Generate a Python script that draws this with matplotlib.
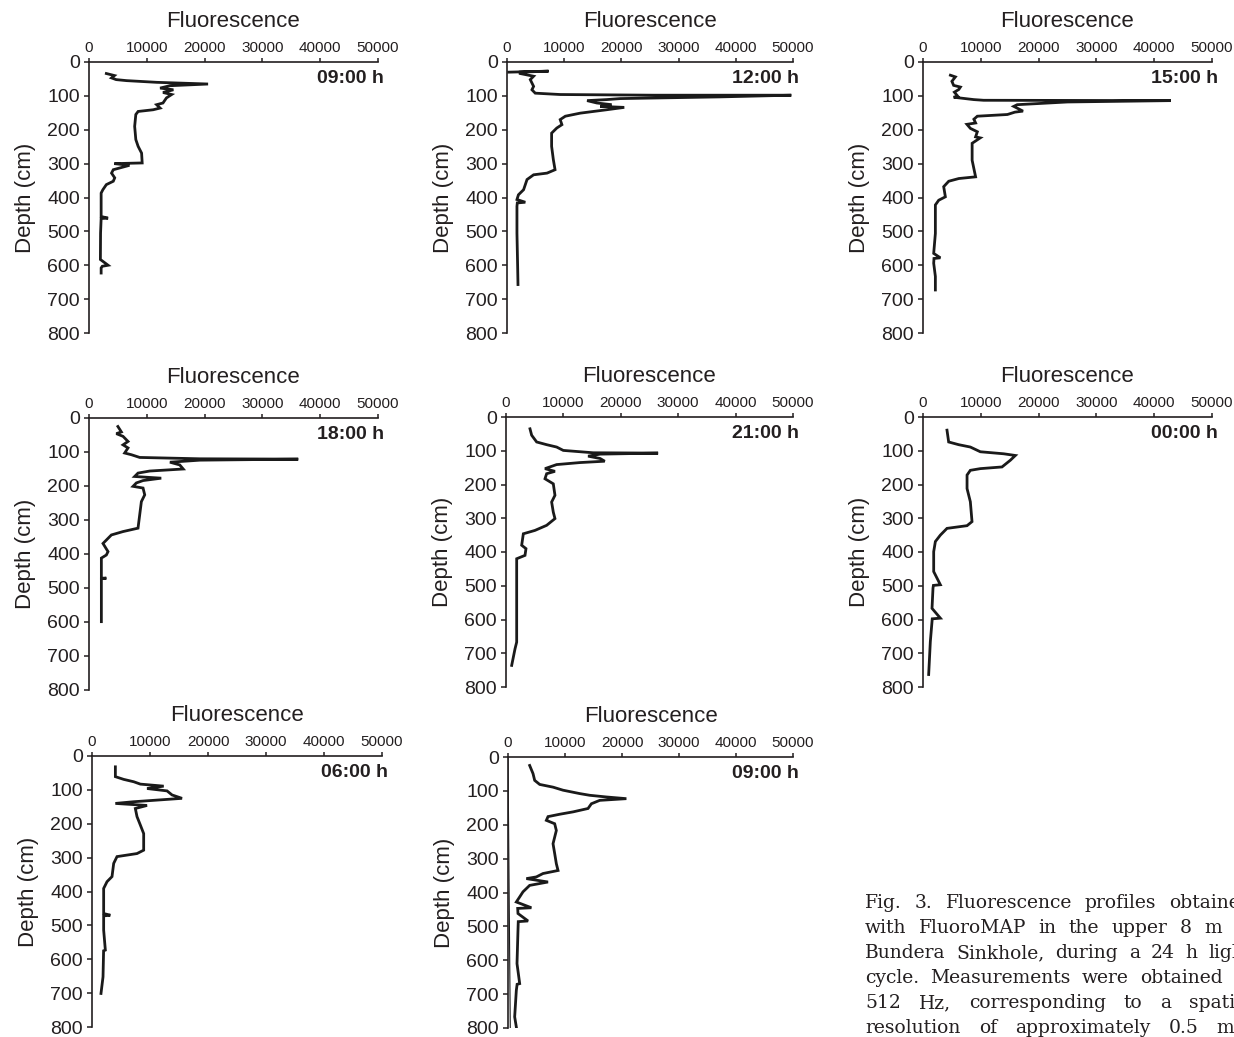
import matplotlib
matplotlib.use('Agg')
import matplotlib.pyplot as plt

plt.rcParams['font.family'] = ['Liberation Sans', 'DejaVu Sans']

########################
# Digitised profiles   #
########################

times = ['09:00 h', '12:00 h', '15:00 h', '18:00 h', '21:00 h', '00:00 h', '06:00 h', '09:00 h']

# 09:00 h
d_0900 = [34, 40, 47, 52, 55, 60, 65, 70, 77, 82, 90, 96, 106, 121, 126, 136, 141, 146, 155, 190,
          229, 249, 269, 298, 300, 305, 318, 328, 342, 352, 362, 377, 387, 456, 461, 462, 505, 583, 600, 603, 608, 623]
f_0900 = [3000, 4400, 3900, 4700, 6500, 11700, 20600, 14000, 12300, 14600, 12800, 14300, 13400, 12800, 11700, 12300, 11100, 8500, 8100, 7900,
          8100, 8500, 9100, 9200, 4400, 7000, 4200, 3900, 4450, 4200, 3000, 2400, 2100, 2100, 3300, 2100, 2000, 1970, 3300, 2300, 2100, 2100]

# 12:00 h
d_1200 = [30, 27, 30, 34, 42, 52, 72, 82, 92, 96, 98, 98, 103, 108, 111, 114, 121, 126, 131, 134, 141, 151, 160, 170,
          185, 195, 210, 249, 288, 318, 328, 333, 347, 377, 392, 406, 414, 416, 426, 505, 603, 657]
f_1200 = [290, 7260, 2300, 2300, 4650, 4070, 4650, 4360, 4940, 9300, 25600, 49700, 37200, 19800, 17400, 14000, 15700, 18300, 16300, 20500, 17400, 12800, 10200, 9300,
          9600, 8700, 7800, 7800, 8100, 8400, 7000, 4650, 3500, 2900, 2000, 1740, 3200, 1800, 1740, 1740, 1860, 1920]

# 15:00 h
d_1500 = [39, 44, 57, 69, 74, 81, 89, 101, 104, 111, 113, 114, 118, 126, 131, 145, 148, 155, 160, 169, 180, 184, 196, 206,
          221, 224, 240, 290, 339, 344, 352, 368, 398, 408, 422, 506, 565, 578, 580, 594, 633, 673]
f_1500 = [4740, 5600, 5000, 5300, 6470, 6200, 5430, 6010, 5300, 8790, 10500, 42900, 25000, 16300, 15700, 17300, 15900, 14600, 9400, 8800, 9100, 7600, 8200, 9400,
          9100, 9900, 8500, 8500, 9100, 6200, 4450, 3580, 3870, 2720, 2140, 2140, 1850, 3000, 1900, 1850, 2140, 2140]

# 18:00 h
d_1800 = [25, 41, 46, 54, 69, 79, 88, 103, 108, 116, 120, 121, 124, 130, 138, 150, 156, 162, 172, 177, 184, 191, 201, 206,
          226, 246, 285, 324, 334, 344, 369, 393, 403, 412, 471, 471, 473, 511, 599]
f_1800 = [5000, 5600, 4730, 5890, 6750, 5890, 6750, 6170, 7330, 8770, 19200, 36200, 19200, 14000, 15700, 16300, 10500, 8480, 7900, 12500, 9350, 8190, 7620, 9350,
          9640, 9060, 8770, 8480, 5890, 3870, 2420, 3290, 3000, 2140, 2140, 3000, 2140, 2140, 2140]

# 21:00 h
d_2100 = [35, 54, 74, 82, 89, 99, 106, 107, 110, 116, 123, 131, 135, 141, 153, 161, 168, 183, 198, 232, 252, 282, 301,
          321, 336, 346, 380, 390, 410, 420, 509, 667, 687, 736]
f_2100 = [4180, 4470, 5340, 7080, 8820, 9980, 15200, 26500, 16400, 14300, 16400, 17200, 12900, 8820, 6790, 8530, 7080, 6790, 8240, 8530, 7950, 8240, 8530,
          7080, 5050, 3020, 2730, 3480, 3310, 1860, 1860, 1860, 1570, 990]

# 00:00 h
d_0000 = [39, 74, 82, 89, 103, 109, 114, 128, 148, 153, 158, 172, 212, 251, 310, 322, 330, 350, 369, 399, 458, 497, 499,
          507, 567, 596, 598, 606, 665, 763]
f_0000 = [4150, 4440, 6170, 8190, 9920, 13960, 15980, 15120, 13670, 9920, 8190, 7620, 7620, 8190, 8480, 7620, 4150, 3000, 2140, 1850, 1850, 3000, 1800,
          1730, 1560, 3000, 1600, 1560, 1270, 980]

# 06:00 h
d_0600 = [32, 61, 69, 76, 83, 89, 96, 103, 115, 125, 135, 140, 146, 155, 179, 204, 229, 278, 288, 297, 317, 356, 371, 391,
          465, 470, 472, 514, 573, 575, 652, 701]
f_0600 = [4030, 4030, 5460, 7190, 8340, 12360, 9490, 12940, 13800, 15520, 7190, 4030, 9490, 7470, 7760, 8340, 8910, 8910, 7760, 4310, 3740, 3450, 2590, 2010,
          2010, 3160, 2010, 2010, 2300, 2000, 1900, 1550]

# 09:00 h (next day)
d_0900b = [25, 49, 69, 81, 89, 98, 108, 113, 118, 123, 128, 138, 152, 162, 169, 176, 187, 197, 217, 256, 285, 315, 335, 344,
           354, 359, 369, 379, 398, 413, 428, 445, 447, 462, 484, 486, 512, 610, 669, 671, 689, 767, 797]
f_0900b = [3800, 4390, 4680, 5560, 7900, 9650, 12580, 14330, 17260, 20770, 16090, 14630, 14040, 11410, 9070, 7020, 6730, 8190, 8480, 7900, 8190, 8480, 8780, 6140,
           4970, 3220, 7020, 3800, 2630, 2050, 1460, 4100, 1700, 1750, 3510, 1800, 1750, 1580, 2050, 1600, 1460, 1170, 1460]
# thin return trace in the last panel
d_ret = [0, 800]
f_ret = [0, 400]

depths = [d_0900, d_1200, d_1500, d_1800, d_2100, d_0000, d_0600, d_0900b]
fluors = [f_0900, f_1200, f_1500, f_1800, f_2100, f_0000, f_0600, f_0900b]

xticks = [0, 10000, 20000, 30000, 40000, 50000]
yticks = [0, 100, 200, 300, 400, 500, 600, 700, 800]

caption = ['Fig. 3. Fluorescence profiles obtained',
           'with FluoroMAP in the upper 8 m of',
           'Bundera Sinkhole, during a 24 h light',
           'cycle. Measurements were obtained at',
           '512 Hz, corresponding to a spatial',
           'resolution of approximately 0.5 mm']

##########
# Layout #
##########

W, H = 1234, 1037
fig = plt.figure(figsize=(W / 100, H / 100), dpi=100)

# axes boxes in pixels: left, top, right, bottom
boxes = [(89, 62, 378, 333), (507, 62, 793, 333), (923, 62, 1212, 333),
         (89, 418, 378, 690), (506, 417, 793, 687), (923, 417, 1212, 687),
         (92, 756, 382, 1027), (508, 757, 793, 1028)]

ink = '#231f20'
for i, (l, t, r, b) in enumerate(boxes):
    ax = fig.add_axes([l / W, 1 - b / H, (r - l) / W, (b - t) / H])
    ax.plot(fluors[i], depths[i], color='#1a1a1a', lw=2.0, solid_joinstyle='miter')
    if i == 7:
        ax.plot(f_ret, d_ret, color='#1a1a1a', lw=0.8)
    ax.set_xlim(0, 50000)
    ax.set_ylim(800, 0)
    ax.set_xticks(xticks)
    ax.set_yticks(yticks)
    ax.xaxis.tick_top()
    ax.xaxis.set_label_position('top')
    ax.spines['right'].set_visible(False)
    ax.spines['bottom'].set_visible(False)
    for s in ['left', 'top']:
        ax.spines[s].set_linewidth(1.2)
        ax.spines[s].set_color(ink)
    ax.tick_params(axis='x', direction='out', length=3, width=1.1, pad=2,
                   labelsize=11, colors=ink)
    ax.tick_params(axis='y', direction='out', length=3.5, width=1.1, pad=3,
                   labelsize=14, colors=ink)
    ax.set_xlabel('Fluorescence', fontsize=16, color=ink, labelpad=10)
    ax.set_ylabel('Depth (cm)', fontsize=16, color=ink, labelpad=8)
    ax.text(1.02, 0.94, times[i], transform=ax.transAxes, ha='right', va='center',
            fontsize=14, fontweight='bold', color=ink)

# justified caption, cut at the right edge like the original page
renderer = fig.canvas.get_renderer()
cap_left, cap_right = 865, 1252
for k, line in enumerate(caption):
    words = line.split(' ')
    objs = [fig.text(0, 0, w, fontsize=13.5, family='DejaVu Serif', color=ink, va='baseline')
            for w in words]
    widths = [o.get_window_extent(renderer).width for o in objs]
    gap = (cap_right - cap_left - sum(widths)) / (len(words) - 1)
    x = cap_left
    y = 908 + 25 * k
    for o, wd in zip(objs, widths):
        o.set_position((x / W, 1 - y / H))
        x += wd + gap

fig.savefig('out.png', dpi=100)
